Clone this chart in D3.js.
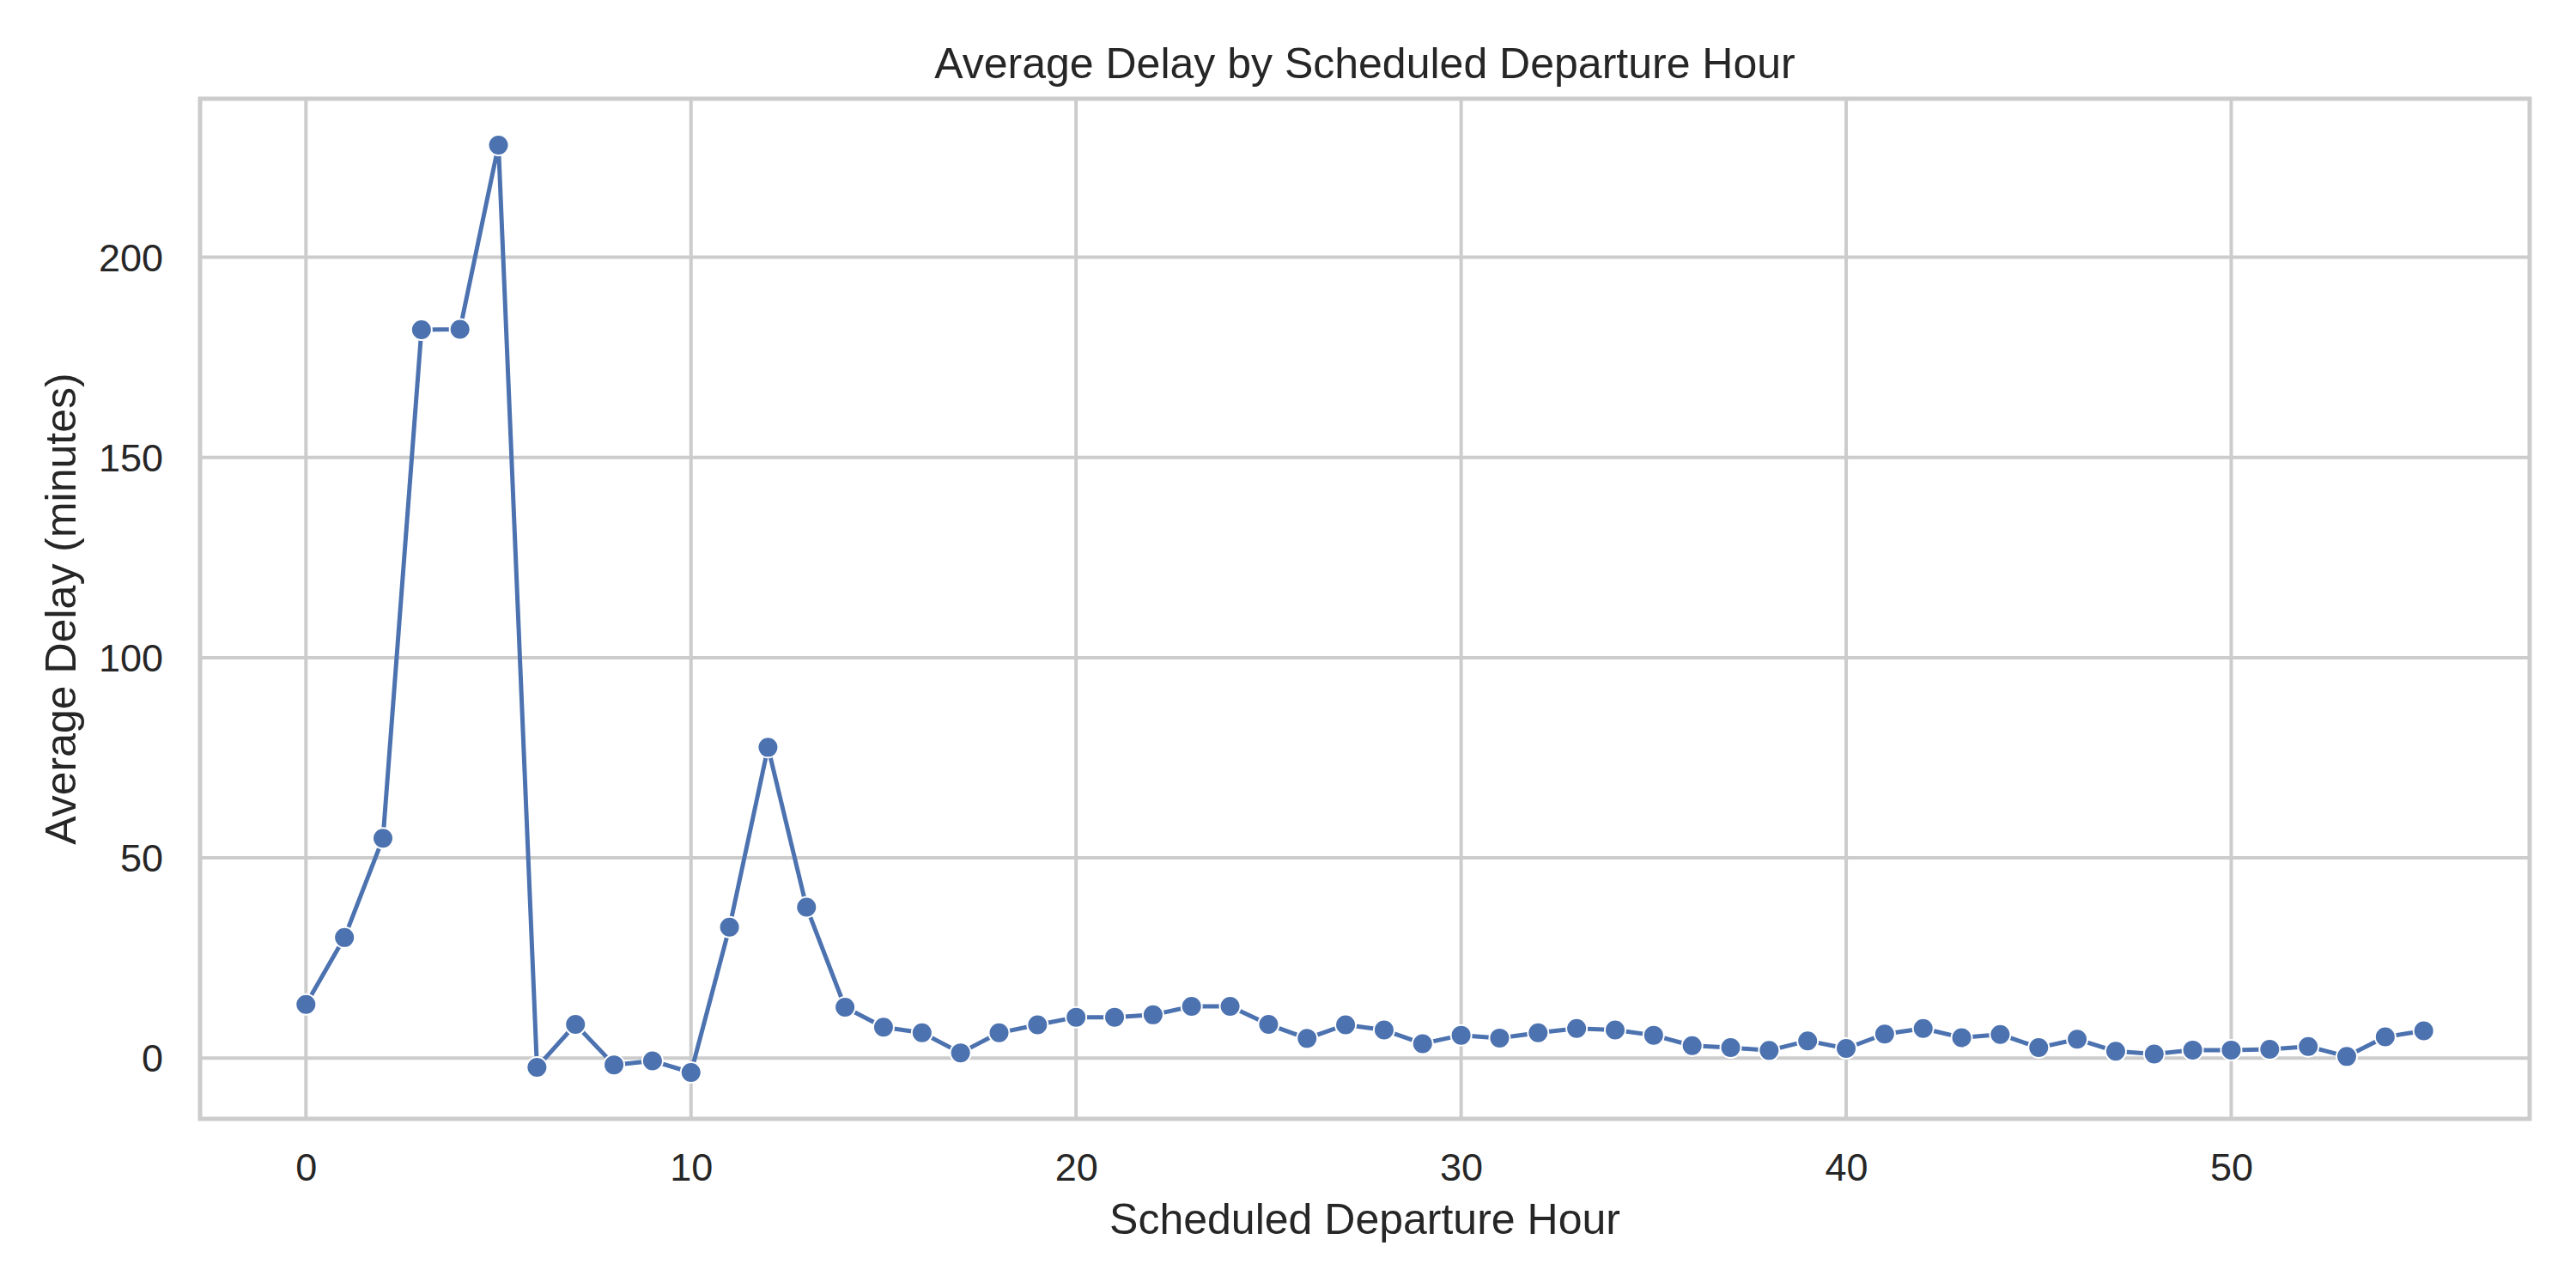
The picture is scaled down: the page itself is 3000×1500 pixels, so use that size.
<!DOCTYPE html>
<html>
<head>
<meta charset="utf-8">
<script src="https://cdn.jsdelivr.net/npm/d3@7"></script>
<style>
  body { margin: 0; background: #fff; }
  text { font-family: "Liberation Sans", Arial, sans-serif; fill: #262626; }
</style>
</head>
<body>
<svg id="chart" width="3000" height="1500"></svg>
<script>
// data
var hours = d3.range(0, 56);
var avgDelay = [13.4, 30.1, 54.9, 181.9, 182.0, 228.0, -2.3, 8.4, -1.7, -0.7,
                -3.6, 32.7, 77.6, 37.7, 12.7, 7.7, 6.3, 1.3, 6.3, 8.3,
                10.2, 10.2, 10.8, 12.9, 12.9, 8.4, 4.9, 8.3, 7.0, 3.6,
                5.7, 5.0, 6.3, 7.4, 7.0, 5.7, 3.1, 2.6, 1.9, 4.3,
                2.4, 6.0, 7.4, 5.1, 5.9, 2.6, 4.7, 1.7, 1.0, 2.0,
                2.0, 2.2, 2.9, 0.4, 5.3, 6.8];
var xTicks = [0, 10, 20, 30, 40, 50];
var yTicks = [0, 50, 100, 150, 200];

var chartTitle = "Average Delay by Scheduled Departure Hour";
var xLabel = "Scheduled Departure Hour";
var yLabel = "Average Delay (minutes)";

var space = {left: 233, right: 2946, top: 115, bottom: 1303};
var gridColor = "#cccccc", lineColor = "#4c72b0";

var points = hours.map(function (h, i) { return {h: h, v: avgDelay[i]}; });

// matplotlib style 5% padding on both axes
function padded(ext) {
    var pad = (ext[1] - ext[0]) * 0.05;
    return [ext[0] - pad, ext[1] + pad];
}

var x = d3.scaleLinear().domain(padded(d3.extent(hours))).range([space.left, space.right]);
var y = d3.scaleLinear().domain(padded(d3.extent(avgDelay))).range([space.bottom, space.top]);

var svg = d3.select("#chart");

//grid
var grid = svg.append("g").attr("id", "grid");
grid.selectAll(".vgrid").data(xTicks).enter().append("line")
    .attr("x1", function (d) { return x(d); }).attr("x2", function (d) { return x(d); })
    .attr("y1", space.top).attr("y2", space.bottom)
    .attr("stroke", gridColor).attr("stroke-width", 4);
grid.selectAll(".hgrid").data(yTicks).enter().append("line")
    .attr("y1", function (d) { return y(d); }).attr("y2", function (d) { return y(d); })
    .attr("x1", space.left).attr("x2", space.right)
    .attr("stroke", gridColor).attr("stroke-width", 4);

//axes (labels only, seaborn whitegrid has no tick marks)
var xAxis = svg.append("g")
    .attr("transform", "translate(0," + (space.bottom + 72) + ")")
    .call(d3.axisBottom(x).tickValues(xTicks).tickSize(0).tickPadding(0));
xAxis.select(".domain").remove();
xAxis.selectAll("text").attr("dy", 0).attr("font-size", 45)
    .style("font-family", "Liberation Sans, Arial, sans-serif").attr("fill", "#262626");

var yAxis = svg.append("g")
    .attr("transform", "translate(" + 190 + ",0)")
    .call(d3.axisLeft(y).tickValues(yTicks).tickSize(0).tickPadding(0));
yAxis.select(".domain").remove();
yAxis.selectAll("text").attr("dy", "0.35em").attr("x", 0).attr("font-size", 45)
    .style("font-family", "Liberation Sans, Arial, sans-serif").attr("fill", "#262626");

//frame
svg.append("rect")
    .attr("x", space.left).attr("y", space.top)
    .attr("width", space.right - space.left).attr("height", space.bottom - space.top)
    .attr("fill", "none").attr("stroke", gridColor).attr("stroke-width", 5);

//line + markers
var line = d3.line().x(function (d) { return x(d.h); }).y(function (d) { return y(d.v); });
svg.append("path").datum(points)
    .attr("d", line).attr("fill", "none")
    .attr("stroke", lineColor).attr("stroke-width", 5)
    .attr("stroke-linejoin", "round");
svg.append("g").selectAll("circle").data(points).enter().append("circle")
    .attr("cx", function (d) { return x(d.h); })
    .attr("cy", function (d) { return y(d.v); })
    .attr("r", 12)
    .attr("fill", lineColor).attr("stroke", "#fff").attr("stroke-width", 2);

//titles
var midX = (space.left + space.right) / 2;
svg.append("text").attr("x", midX).attr("y", 91)
    .attr("text-anchor", "middle").attr("font-size", 50).text(chartTitle);
svg.append("text").attr("x", midX).attr("y", 1437)
    .attr("text-anchor", "middle").attr("font-size", 50).text(xLabel);
svg.append("text")
    .attr("transform", "translate(88," + ((space.top + space.bottom) / 2) + ") rotate(-90)")
    .attr("text-anchor", "middle").attr("font-size", 50).text(yLabel);
</script>
</body>
</html>
